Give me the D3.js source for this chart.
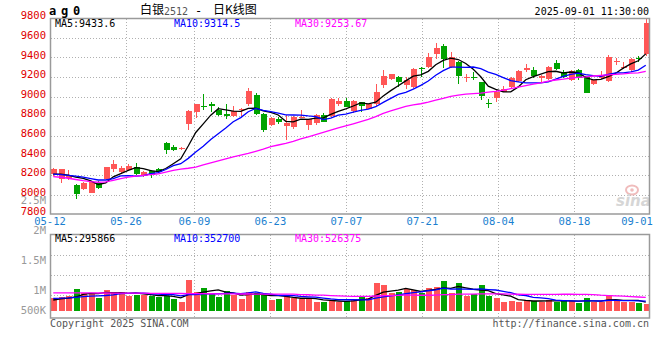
<!DOCTYPE html>
<html><head><meta charset="utf-8">
<script src="https://cdnjs.cloudflare.com/ajax/libs/d3/7.8.5/d3.min.js"></script>
<style>body{margin:0;background:#fff}svg{display:block}</style>
</head><body><svg id="c" width="660" height="360"></svg>
<script>
// ---------- data ----------
const dates = ["05-12","05-13","05-14","05-15","05-16","05-19","05-20","05-21","05-22","05-23",
"05-26","05-27","05-28","05-29","05-30","06-03","06-04","06-05","06-06","06-09",
"06-10","06-11","06-12","06-13","06-16","06-17","06-18","06-19","06-20","06-23",
"06-24","06-25","06-26","06-27","06-30","07-01","07-02","07-03","07-04","07-07",
"07-08","07-09","07-10","07-11","07-14","07-15","07-16","07-17","07-18","07-21",
"07-22","07-23","07-24","07-25","07-28","07-29","07-30","07-31","08-01","08-04",
"08-05","08-06","08-07","08-08","08-11","08-12","08-13","08-14","08-15","08-18",
"08-19","08-20","08-21","08-22","08-25","08-26","08-27","08-28","08-29","09-01"];
const open  = [8208,8157,8174,8099,8055,8021,8123,8160,8262,8235,8249,8279,8191,8245,8262,8528,8487,8463,8721,8847,
8909,8922,8864,8827,8803,8865,8922,9017,8824,8711,8769,8705,8694,8786,8711,8735,8813,8803,8922,8956,
8858,8943,8878,8922,9119,9181,9201,9119,9102,9296,9303,9439,9521,9300,9358,9194,9204,9147,8936,8990,
9051,9099,9160,9272,9272,9194,9181,9340,9249,9167,9272,9211,9130,9194,9164,9351,9290,9272,9398,9432];
const high  = [8275,8265,8252,8105,8125,8140,8135,8285,8354,8290,8310,8327,8245,8250,8270,8535,8507,8490,8865,8930,
9028,8949,8892,8926,8909,8888,9085,9038,8830,8790,8796,8813,8800,8864,8775,8820,8830,8983,8983,8990,
8962,8950,8930,9130,9269,9235,9215,9204,9293,9307,9443,9545,9534,9453,9365,9228,9256,9150,8977,9068,
9109,9204,9269,9330,9300,9221,9313,9375,9272,9270,9283,9215,9175,9262,9426,9398,9351,9390,9419,9806];
const low   = [8195,8123,8150,7953,8045,8015,8062,8155,8235,8225,8240,8205,8180,8167,8220,8412,8446,8455,8660,8786,
8864,8847,8806,8772,8789,8803,8905,8813,8643,8705,8718,8558,8670,8780,8660,8711,8738,8796,8909,8890,
8837,8847,8870,8909,9092,9175,9102,9079,9092,9204,9296,9385,9290,9290,9126,9153,9170,8970,8888,8949,
9045,9085,9150,9249,9194,9153,9175,9272,9187,9160,9170,9034,9123,9180,9153,9323,9282,9255,9351,9415];
const close = [8262,8259,8194,8007,8116,8133,8072,8279,8313,8276,8296,8215,8235,8204,8228,8456,8460,8480,8858,8922,
8895,8902,8813,8800,8858,8878,9058,8820,8660,8783,8745,8735,8796,8796,8769,8813,8745,8973,8956,8895,
8956,8905,8922,9045,9211,9228,9153,9170,9286,9279,9405,9494,9385,9402,9211,9204,9194,9007,8922,9051,
9079,9187,9262,9289,9211,9208,9306,9283,9201,9262,9187,9041,9170,9221,9402,9365,9300,9385,9380,9755];
// volume, thousands of lots
const volumeK = [878,906,922,1033,972,972,889,1017,989,989,922,933,933,922,906,917,867,822,1183,989,
1050,961,906,1000,933,867,989,972,933,850,867,933,878,867,867,822,822,833,822,833,
867,917,878,1139,1100,961,989,1033,1017,961,1050,1067,1167,967,1139,922,950,1100,922,883,
822,839,822,850,833,822,850,822,850,833,794,883,822,822,928,833,822,822,806,789];
// moving-average values before enough history is on the chart
const ma5Head  = [8210,8210,8200,8180];
const ma10Head = [8210,8205,8198,8190,8180,8165,8150,8150,8165];
const ma30Head = [8185,8178,8168,8155,8143,8133,8127,8130,8145,8165,8180,8190,8198,8205,8213,8230,8248,8262,8270,8282,
8305,8325,8345,8365,8385,8403,8422,8443,8465];
const vma5Head  = [850,870,880,900];
const vma10Head = [878,880,885,895,905,915,920,925,935];
const vma30Head = [970,970,969,969,968,968,967,967,966,966,965,964,963,962,961,960,959,958,957,956,
955,954,953,952,951,950,950,949,948];
const priceTicks = [9800,9600,9400,9200,9000,8800,8600,8400,8200,8000,7800];
const volTicks = [2500,2000,1500,1000,500];
const volTickLabels = ["2.5M","2M","1.5M","1M","500K"];
const dateTicks = ["05-12","05-26","06-09","06-23","07-07","07-21","08-04","08-18","09-01"];
const legendPrice = ["MA5:9433.6","MA10:9314.5","MA30:9253.67"];
const legendVol = ["MA5:295866","MA10:352700","MA30:526375"];

// ---------- drawing ----------
const svg = d3.select("#c");
const MONO = "'DejaVu Sans Mono', 'Liberation Mono', monospace";
const CJK = "'Noto Sans CJK SC', sans-serif";
const RED = "#ff5656", GREEN = "#00a300";
const MA_COL = ["#000000", "#0000ff", "#ff00ff"];
const GRID = "#b0b0b0", FRAME = "#9a9a9a";

const pane = {left: 50.5, right: 649.5, top: 18.5, bottom: 214};
const vpane = {top: 234.5, bottom: 318};

const x = d3.scaleBand().domain(d3.range(dates.length)).range([49.5, 649.5]);
const cx = i => x(i) + x.bandwidth() / 2;
const xg = d3.scaleLinear().domain([0, dates.length - 1]).range([50, 650.4]);
const y = d3.scaleLinear().domain([7800, 9800]).range([214.3, 18.3]);
const yv = d3.scaleLinear().domain([666.667, 2500]).range([311, 201]);

function ma(arr, n, head) {
  return arr.map((_, i) => i < n - 1 ? head[i] : d3.mean(arr.slice(i - n + 1, i + 1)));
}

// gridlines
const g = svg.append("g").attr("stroke", GRID).attr("stroke-dasharray", "1,2").attr("shape-rendering", "crispEdges");
priceTicks.slice(1, -1).forEach(v => {
  const yy = Math.round(y(v)) + 0.5;
  g.append("line").attr("x1", pane.left).attr("x2", pane.right).attr("y1", yy).attr("y2", yy);
});
[0.25, 0.5, 0.75].forEach(f => {
  const yy = Math.round(vpane.top + (vpane.bottom - 3 - vpane.top) * f) + 0.5;
  g.append("line").attr("x1", pane.left).attr("x2", pane.right).attr("y1", yy).attr("y2", yy);
});
dateTicks.slice(1, -1).forEach(d => {
  const xx = Math.round(xg(dates.indexOf(d))) + 0.5;
  g.append("line").attr("x1", xx).attr("x2", xx).attr("y1", pane.top).attr("y2", pane.bottom);
  g.append("line").attr("x1", xx).attr("x2", xx).attr("y1", vpane.top).attr("y2", vpane.bottom);
});

// watermark
const wm = svg.append("g");
wm.append("ellipse").attr("cx", 632).attr("cy", 190).attr("rx", 6).attr("ry", 4.5).attr("fill", "none").attr("stroke", "#f0bcbc").attr("stroke-width", 2);
wm.append("circle").attr("cx", 632).attr("cy", 190).attr("r", 1.8).attr("fill", "#f0bcbc");
wm.append("text").attr("x", 616).attr("y", 206).attr("font-family", "'DejaVu Sans', sans-serif")
  .attr("font-size", 15).attr("font-style", "italic").attr("font-weight", "bold").attr("fill", "#d6d6d6").text("sina");

// candles
const cg = svg.append("g").attr("shape-rendering", "crispEdges");
dates.forEach((d, i) => {
  const up = close[i] >= open[i];
  const col = up ? RED : GREEN;
  const xc = Math.round(cx(i));
  cg.append("line").attr("x1", xc + 0.5).attr("x2", xc + 0.5)
    .attr("y1", y(high[i])).attr("y2", y(low[i])).attr("stroke", col).attr("stroke-width", 1);
  const top = y(Math.max(open[i], close[i])), bot = y(Math.min(open[i], close[i]));
  cg.append("rect").attr("x", xc - 2.5).attr("width", 6)
    .attr("y", top).attr("height", Math.max(1, bot - top)).attr("fill", col);
});

// price moving averages
const mas = [ma(close, 5, ma5Head), ma(close, 10, ma10Head), ma(close, 30, ma30Head)];
const pl = d3.line().x((v, i) => cx(i)).y(v => y(v));
mas.forEach((s, k) => svg.append("path").attr("d", pl(s)).attr("fill", "none")
  .attr("stroke", MA_COL[k]).attr("stroke-width", 1.3));

// volume bars
const vg = svg.append("g").attr("shape-rendering", "crispEdges");
volumeK.forEach((v, i) => {
  const col = close[i] >= open[i] ? RED : GREEN;
  const xc = Math.round(cx(i));
  vg.append("rect").attr("x", xc - 2.5).attr("width", 6)
    .attr("y", yv(v)).attr("height", yv.range()[0] - yv(v)).attr("fill", col);
});
const vmas = [ma(volumeK, 5, vma5Head), ma(volumeK, 10, vma10Head), ma(volumeK, 30, vma30Head)];
const vl = d3.line().x((v, i) => cx(i)).y(v => yv(v));
vmas.forEach((s, k) => svg.append("path").attr("d", vl(s)).attr("fill", "none")
  .attr("stroke", MA_COL[k]).attr("stroke-width", 1.3));

// frames
svg.append("rect").attr("x", pane.left).attr("y", pane.top).attr("width", pane.right - pane.left)
  .attr("height", pane.bottom - pane.top).attr("fill", "none").attr("stroke", FRAME).attr("stroke-width", 1.5);
svg.append("rect").attr("x", pane.left).attr("y", vpane.top).attr("width", pane.right - pane.left)
  .attr("height", vpane.bottom - vpane.top).attr("fill", "none").attr("stroke", FRAME).attr("stroke-width", 1.5);

// texts
const T = (xx, yy, s, opt = {}) => svg.append("text").attr("x", xx).attr("y", yy)
  .attr("font-family", opt.f || MONO).attr("font-size", opt.s || 10)
  .attr("fill", opt.c || "#000").attr("text-anchor", opt.a || "start")
  .attr("dominant-baseline", "middle").attr("font-weight", opt.w || "normal").text(s);

priceTicks.forEach(v => T(46, y(v) - 2, v, {c: "#e00000", a: "end", s: 10.5}));
volTicks.forEach((v, k) => T(46, Math.min(311, yv(v)), volTickLabels[k], {c: "#999", a: "end", s: 10.5}));
dateTicks.forEach(d => {
  const xx = Math.min(637, xg(dates.indexOf(d)));
  T(xx, 222, d, {c: "#1b7fd0", a: "middle", s: 10.5});
});

// title row
T(49, 11, "ag0", {s: 12, w: "bold"}).attr("letter-spacing", 4.8);
T(140, 11, "白银", {f: CJK, s: 12});
T(164, 11.5, "2512", {s: 10, c: "#555"});
T(195, 11, "-", {s: 12});
T(213, 11, "日K线图", {f: CJK, s: 12});
T(649, 11.5, "2025-09-01 11:30:00", {a: "end"});

// legends
[55, 174, 295].forEach((xx, k) => {
  T(xx, 24, legendPrice[k], {c: MA_COL[k]});
  T(xx, 239, legendVol[k], {c: MA_COL[k]});
});

T(50, 324, "Copyright 2025 SINA.COM", {c: "#555"});
T(649, 324, "http://finance.sina.com.cn", {c: "#555", a: "end"});
</script></body></html>
